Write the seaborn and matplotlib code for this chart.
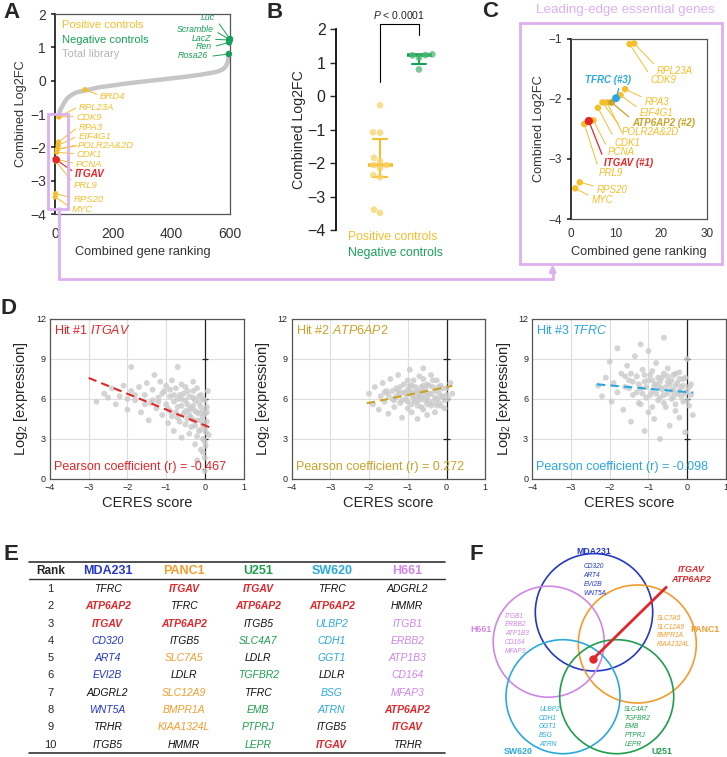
import matplotlib
matplotlib.use('Agg')
import matplotlib.pyplot as plt
import matplotlib.font_manager as fm
from matplotlib.patches import Circle, Rectangle
import numpy as np
import pandas as pd
import seaborn as sns

# ---------------- data ----------------
# panel A: total library (sorted combined log2FC)
lib_rank = [15, 20, 30, 40, 50, 60, 75, 100, 150, 200, 250, 300, 350, 400,
            450, 500, 540, 560, 575, 585, 592, 596]
lib_lfc = [-0.95, -0.85, -0.68, -0.55, -0.47, -0.41, -0.35, -0.30, -0.20, -0.14,
           -0.08, -0.03, 0.02, 0.07, 0.12, 0.18, 0.24, 0.28, 0.34, 0.42, 0.55, 0.75]

# positive controls (rank, combined log2FC)
pos_genes = ['MYC', 'RPS20', 'PRL9', 'PCNA', 'CDK1', 'POLR2A', 'POLR2D',
             'EIF4G1', 'RPA3', 'CDK9', 'RPL23A', 'BRD4']
pos_rank = [1, 2, 3, 5, 6, 7, 8, 11, 12, 13, 14, 103]
pos_lfc = [-3.49, -3.39, -2.42, -2.36, -2.15, -2.06, -2.06, -1.94, -1.84, -1.09, -1.08, -0.27]

# negative controls
neg_genes = ['Luc', 'Scramble', 'LacZ', 'Ren', 'Rosa26']
neg_rank = [600, 599, 598, 597, 596]
neg_lfc = [1.25, 1.23, 1.22, 1.15, 0.80]

# top hits
hit_genes = ['ITGAV', 'ATP6AP2', 'TFRC']
hit_rank = [4, 9, 10]
hit_lfc = [-2.37, -2.06, -1.99]

# label anchors (text, x, y)
a_pos_labels = [('BRD4', 154, -0.47), ('RPL23A', 82, -0.80), ('CDK9', 74, -1.10),
                ('RPA3', 82, -1.40), ('EIF4G1', 80, -1.68), ('POLR2A&2D', 77, -1.95),
                ('CDK1', 74, -2.22), ('PCNA', 72, -2.52), ('PRL9', 65, -3.13),
                ('RPS20', 63, -3.55), ('MYC', 57, -3.85)]
a_neg_labels = [('Luc', 549, 1.90), ('Scramble', 543, 1.55), ('LacZ', 535, 1.27),
                ('Ren', 537, 1.03), ('Rosa26', 526, 0.75)]
c_pos_labels = [('RPL23A', 19.0, -1.53), ('CDK9', 17.7, -1.69), ('RPA3', 16.3, -2.05),
                ('EIF4G1', 15.2, -2.23), ('POLR2A&2D', 11.3, -2.56), ('CDK1', 9.7, -2.73),
                ('PCNA', 8.2, -2.89), ('PRL9', 6.2, -3.23), ('RPS20', 5.7, -3.52),
                ('MYC', 4.6, -3.69)]
c_hit_labels = [('ITGAV (#1)', 7.3, -3.06), ('ATP6AP2 (#2)', 13.5, -2.40),
                ('TFRC (#3)', 3.2, -1.69)]

# panel D: CERES score vs log2 expression (approximate read-off of the clouds)
itgav_pts = [(-2.8, 5.8), (-2.6, 6.4), (-2.5, 6.1), (-2.4, 6.8), (-2.3, 5.6), (-2.2, 6.2),
             (-2.1, 7.0), (-2.0, 5.2), (-1.9, 6.6), (-1.9, 8.4), (-1.8, 5.9), (-1.7, 6.9),
             (-1.65, 5.0), (-1.55, 6.3), (-1.5, 7.2), (-1.45, 4.4), (-1.4, 5.7), (-1.35, 6.7),
             (-1.3, 7.8), (-1.25, 5.3), (-1.2, 6.1), (-1.15, 7.3), (-1.1, 4.8), (-1.05, 6.6),
             (-1.0, 5.6), (-1.0, 7.0), (-0.95, 4.2), (-0.9, 6.2), (-0.9, 5.1), (-0.85, 7.4),
             (-0.8, 3.6), (-0.8, 5.8), (-0.75, 6.8), (-0.7, 4.6), (-0.7, 5.4), (-0.7, 8.4),
             (-0.65, 6.3), (-0.6, 3.1), (-0.6, 7.1), (-0.6, 6.0), (-0.55, 4.9), (-0.5, 5.9),
             (-0.5, 4.1), (-0.45, 6.6), (-0.4, 5.2), (-0.4, 3.4), (-0.35, 4.6), (-0.3, 6.1),
             (-0.3, 5.5), (-0.3, 7.3), (-0.25, 2.6), (-0.25, 4.0), (-0.2, 5.0), (-0.2, 6.8),
             (-0.2, 1.4), (-0.15, 3.6), (-0.15, 5.7), (-0.1, 4.4), (-0.1, 6.3), (-0.1, 2.2),
             (-0.05, 5.1), (-0.05, 3.0), (-0.05, 4.7), (0.0, 1.6), (0.0, 3.8), (0.0, 5.9),
             (0.0, 0.6), (0.02, 2.5), (0.05, 4.3), (0.05, 5.4), (0.1, 3.3), (0.08, 6.6),
             (-0.95, 5.3), (-0.9, 6.7), (-0.85, 4.7), (-0.8, 6.3), (-0.75, 5.0), (-0.7, 6.0),
             (-0.65, 4.3), (-0.6, 5.5), (-0.55, 6.4), (-0.5, 5.1), (-0.5, 6.9), (-0.45, 4.5),
             (-0.45, 5.6), (-0.4, 6.2), (-0.4, 4.8), (-0.35, 5.3), (-0.35, 3.9), (-0.3, 4.4),
             (-0.3, 6.6), (-0.25, 5.1), (-0.25, 5.9), (-0.2, 4.4), (-0.2, 3.2), (-0.15, 4.9),
             (-0.15, 6.2), (-0.1, 5.4), (-0.1, 3.7), (-0.05, 6.0), (-0.05, 4.1), (0.0, 4.9),
             (0.0, 2.8), (0.03, 3.5), (0.05, 5.0), (-1.2, 5.8), (-1.1, 6.4), (-1.35, 5.9),
             (-1.55, 5.6), (-1.8, 6.3), (-2.0, 6.0), (-0.05, 2.0)]
atp6ap2_pts = [(-2.0, 6.4), (-1.9, 5.6), (-1.85, 6.9), (-1.75, 5.2), (-1.7, 6.2), (-1.65, 7.2),
               (-1.6, 5.8), (-1.55, 6.6), (-1.5, 4.9), (-1.45, 7.5), (-1.4, 6.0), (-1.35, 5.4),
               (-1.3, 6.8), (-1.3, 6.2), (-1.25, 7.8), (-1.2, 5.7), (-1.2, 6.4), (-1.15, 4.6),
               (-1.1, 7.1), (-1.1, 6.5), (-1.05, 6.0), (-1.0, 5.3), (-1.0, 6.7), (-0.95, 8.2),
               (-0.95, 7.0), (-0.9, 6.3), (-0.9, 5.0), (-0.85, 7.4), (-0.85, 6.0), (-0.8, 5.8),
               (-0.8, 6.9), (-0.75, 4.5), (-0.7, 6.2), (-0.7, 7.7), (-0.65, 5.4), (-0.65, 6.9),
               (-0.6, 6.6), (-0.6, 8.3), (-0.55, 5.9), (-0.55, 6.3), (-0.5, 7.1), (-0.5, 4.8),
               (-0.45, 6.4), (-0.4, 7.8), (-0.4, 5.5), (-0.35, 6.9), (-0.3, 6.1), (-0.3, 5.0),
               (-0.25, 7.4), (-0.2, 6.5), (-0.2, 5.7), (-0.15, 7.0), (-0.1, 6.2), (-0.05, 5.3),
               (0.0, 6.8), (0.05, 6.0), (0.1, 7.2), (0.15, 6.4),
               (-1.5, 6.3), (-1.4, 6.6), (-1.35, 5.9), (-1.2, 6.9), (-1.15, 5.9), (-1.05, 6.4),
               (-1.0, 5.8), (-0.95, 6.6), (-0.9, 5.6), (-0.85, 6.5), (-0.8, 6.2), (-0.75, 6.6),
               (-0.75, 5.5), (-0.7, 5.9), (-0.7, 6.5), (-0.65, 6.1), (-0.6, 5.2), (-0.6, 7.0),
               (-0.55, 6.7), (-0.5, 5.6), (-0.5, 6.1), (-0.45, 7.0), (-0.45, 5.8), (-0.4, 6.4),
               (-0.35, 5.7), (-0.3, 6.6), (-0.25, 6.0), (-0.25, 5.5), (-0.2, 6.9), (-0.15, 6.2),
               (-0.1, 6.8), (-0.05, 5.9), (0.0, 6.3), (-0.9, 7.0), (-1.0, 7.4), (-0.6, 7.5),
               (-1.25, 6.6), (-1.6, 6.5), (-0.35, 7.4), (-0.15, 5.5)]
tfrc_pts = [(-2.3, 7.0), (-2.2, 6.2), (-2.1, 7.6), (-2.0, 8.8), (-1.95, 5.8), (-1.9, 7.2),
            (-1.8, 9.8), (-1.8, 6.5), (-1.7, 7.9), (-1.65, 5.2), (-1.6, 6.9), (-1.55, 8.5),
            (-1.5, 7.4), (-1.45, 4.3), (-1.4, 6.3), (-1.35, 9.2), (-1.3, 7.7), (-1.25, 5.7),
            (-1.2, 6.8), (-1.2, 10.1), (-1.15, 8.2), (-1.1, 3.6), (-1.1, 7.3), (-1.05, 6.1),
            (-1.0, 9.6), (-1.0, 5.0), (-0.95, 7.8), (-0.9, 6.6), (-0.9, 7.4), (-0.85, 4.5),
            (-0.8, 7.1), (-0.8, 8.7), (-0.75, 5.9), (-0.7, 6.9), (-0.7, 3.0), (-0.65, 7.6),
            (-0.6, 6.3), (-0.6, 10.6), (-0.55, 5.4), (-0.5, 7.3), (-0.5, 8.3), (-0.45, 4.0),
            (-0.4, 6.7), (-0.4, 6.0), (-0.35, 7.8), (-0.35, 6.2), (-0.3, 5.1), (-0.3, 7.0),
            (-0.25, 6.4), (-0.2, 8.0), (-0.2, 4.6), (-0.15, 6.9), (-0.1, 5.8), (-0.1, 7.5),
            (-0.05, 3.5), (0.0, 6.6), (0.0, 9.0), (0.05, 5.5), (0.1, 7.1), (0.15, 4.8),
            (-1.5, 6.8), (-1.45, 7.9), (-1.4, 7.3), (-1.3, 6.5), (-1.25, 7.1), (-1.15, 6.4),
            (-1.1, 7.8), (-1.05, 6.9), (-1.0, 7.4), (-0.95, 6.3), (-0.9, 8.1), (-0.85, 7.0),
            (-0.8, 6.4), (-0.75, 7.6), (-0.7, 6.1), (-0.7, 7.3), (-0.65, 6.7), (-0.6, 7.9),
            (-0.55, 6.9), (-0.5, 6.4), (-0.5, 7.7), (-0.45, 7.1), (-0.4, 7.4), (-0.35, 6.6),
            (-0.3, 7.9), (-0.25, 7.2), (-0.2, 6.6), (-0.2, 7.5), (-0.15, 6.2), (-0.1, 7.0),
            (-0.05, 6.4), (-0.05, 7.6), (0.0, 5.9), (0.05, 6.9), (0.1, 6.3), (-1.2, 5.6),
            (-0.9, 5.4), (-0.6, 5.7), (-0.3, 5.6), (-1.6, 7.7)]
# fitted lines (end points)
itgav_fit = ([-3.0, 0.23], [7.58, 3.75])
atp6ap2_fit = ([-2.06, 0.15], [5.68, 6.98])
tfrc_fit = ([-2.33, 0.16], [7.10, 6.48])
pearson_r = ['-0.467', '0.272', '-0.098']

# panel E: top-10 ranked genes per cell line
cell_lines = ['MDA231', 'PANC1', 'U251', 'SW620', 'H661']
top10 = {
    'MDA231': ['TFRC', 'ATP6AP2', 'ITGAV', 'CD320', 'ART4', 'EVI2B', 'ADGRL2', 'WNT5A', 'TRHR', 'ITGB5'],
    'PANC1': ['ITGAV', 'TFRC', 'ATP6AP2', 'ITGB5', 'SLC7A5', 'LDLR', 'SLC12A9', 'BMPR1A', 'KIAA1324L', 'HMMR'],
    'U251': ['ITGAV', 'ATP6AP2', 'ITGB5', 'SLC4A7', 'LDLR', 'TGFBR2', 'TFRC', 'EMB', 'PTPRJ', 'LEPR'],
    'SW620': ['TFRC', 'ATP6AP2', 'ULBP2', 'CDH1', 'GGT1', 'LDLR', 'BSG', 'ATRN', 'ITGB5', 'ITGAV'],
    'H661': ['ADGRL2', 'HMMR', 'ITGB1', 'ERBB2', 'ATP1B3', 'CD164', 'MFAP3', 'ATP6AP2', 'ITGAV', 'TRHR'],
}
common_hits = ['ITGAV', 'ATP6AP2']

# ---------------- style ----------------
sns.set_theme(style='white')
names = {f.name for f in fm.fontManager.ttflist}
FONT = 'Liberation Sans'
NARROW = 'Liberation Sans Narrow' if 'Liberation Sans Narrow' in names else FONT
plt.rcParams['font.family'] = [FONT, 'DejaVu Sans']
plt.rcParams['mathtext.fontset'] = 'custom'
plt.rcParams['mathtext.rm'] = FONT
plt.rcParams['mathtext.it'] = FONT + ':italic'
plt.rcParams['mathtext.bf'] = FONT + ':bold'

YEL = '#F4BE2C'
YEL_LIGHT = '#F7D46A'
GREEN = '#17A158'
GREEN_LIGHT = '#4DB873'
GRAY = '#C6C6C6'
RED = '#E3262A'
GOLD = '#C9A227'
BLUE = '#2AA7E0'
LILAC = '#DDB0F0'
SPINE = '#555555'
line_colors = {'MDA231': '#2437C8', 'PANC1': '#F39C2C', 'U251': '#1E9E4E',
               'SW620': '#2AA9DA', 'H661': '#CF86E6'}

W, H = 727, 757
fig = plt.figure(figsize=(W / 100, H / 100), dpi=100)


def px_axes(x0, y0, x1, y1):
    return fig.add_axes([x0 / W, 1 - y1 / H, (x1 - x0) / W, (y1 - y0) / H])


def style_spines(ax, left='black'):
    for s in ['top', 'right', 'bottom']:
        ax.spines[s].set_color(SPINE)
        ax.spines[s].set_linewidth(0.9)
    ax.spines['left'].set_color(left)
    ax.spines['left'].set_linewidth(1.1)


pos_df = pd.DataFrame({'gene': pos_genes, 'rank': pos_rank, 'lfc': pos_lfc})
neg_df = pd.DataFrame({'gene': neg_genes, 'rank': neg_rank, 'lfc': neg_lfc})
hit_df = pd.DataFrame({'gene': hit_genes, 'rank': hit_rank, 'lfc': hit_lfc})
pt = {g: (r, v) for g, r, v in zip(pos_genes + neg_genes + hit_genes,
                                    pos_rank + neg_rank + hit_rank,
                                    pos_lfc + neg_lfc + hit_lfc)}


def label_targets(lbl):
    return ['POLR2A', 'POLR2D'] if lbl == 'POLR2A&2D' else [lbl.split(' ')[0]]


# ---------------- A ----------------
ax = px_axes(55, 14, 230, 214)
sns.lineplot(x=lib_rank, y=lib_lfc, color=GRAY, lw=3.2, ax=ax, solid_capstyle='round')
sns.scatterplot(data=hit_df[hit_df.gene != 'ITGAV'], x='rank', y='lfc', color=GRAY, s=10,
                edgecolor='none', ax=ax, clip_on=False)
sns.scatterplot(data=pos_df, x='rank', y='lfc', color=YEL, s=14, edgecolor='none',
                ax=ax, clip_on=False, zorder=3)
sns.scatterplot(data=hit_df[hit_df.gene == 'ITGAV'], x='rank', y='lfc', color=RED, s=30,
                edgecolor='none', ax=ax, clip_on=False, zorder=4)
sns.scatterplot(data=neg_df, x='rank', y='lfc', color=GREEN, s=22, edgecolor='none',
                ax=ax, clip_on=False, zorder=3)
for lbl, lx, ly in a_pos_labels:
    for g in label_targets(lbl):
        ax.annotate(lbl if g == label_targets(lbl)[0] else '', xy=pt[g], xytext=(lx, ly),
                    fontsize=6.8, style='italic', color=YEL, ha='left', va='center',
                    arrowprops=dict(arrowstyle='-', color=YEL, lw=0.7, shrinkA=0, shrinkB=2,
                                    relpos=(0, 0.6)))
ax.annotate('ITGAV', xy=pt['ITGAV'], xytext=(69, -2.80), fontsize=7.2, style='italic',
            weight='bold', color=RED, ha='left', va='center',
            arrowprops=dict(arrowstyle='-', color=RED, lw=0.8, shrinkA=0, shrinkB=2, relpos=(0, 0.6)))
for lbl, lx, ly in a_neg_labels:
    ax.annotate(lbl, xy=pt[lbl], xytext=(lx, ly), fontsize=6.3, style='italic', color=GREEN,
                ha='right', va='center',
                arrowprops=dict(arrowstyle='-', color=GREEN, lw=0.7, shrinkA=1, shrinkB=2,
                                relpos=(1, 0.4)))
ax.text(0.04, 0.945, 'Positive controls', color=YEL, fontsize=8, transform=ax.transAxes, va='center')
ax.text(0.04, 0.87, 'Negative controls', color=GREEN, fontsize=8, transform=ax.transAxes, va='center')
ax.text(0.04, 0.80, 'Total library', color='#B5B5B5', fontsize=8, transform=ax.transAxes, va='center')
ax.add_patch(Rectangle((-25, -3.84), 70.6, 2.85, fill=False, ec=LILAC, lw=2, clip_on=False, zorder=5))
ax.set_xlim(0, 600)
ax.set_ylim(-4, 2)
ax.set_xticks([0, 200, 400, 600])
ax.set_yticks(range(-4, 3))
ax.tick_params(labelsize=10, length=3, left=True, bottom=False, colors='#333333')
ax.tick_params(axis='x', pad=6)
ax.set_xlabel('Combined gene ranking', fontsize=9.2, color='#333333')
ax.set_ylabel('Combined Log2FC', fontsize=9.2, color='#333333', labelpad=2)
style_spines(ax)

# ---------------- B ----------------
ax = px_axes(336, 29.3, 470, 230)
order = ['Positive controls', 'Negative controls']
b_df = pd.DataFrame({'group': [order[0]] * len(pos_lfc) + [order[1]] * len(neg_lfc),
                     'lfc': pos_lfc + neg_lfc})


def iqr(v):
    return (np.percentile(v, 25, method='weibull'), np.percentile(v, 75, method='weibull'))


sns.swarmplot(data=b_df, x='group', y='lfc', hue='group', order=order, hue_order=order,
              palette=[YEL_LIGHT, GREEN_LIGHT], size=4.8, alpha=0.75, legend=False, ax=ax)
sns.pointplot(data=b_df, x='group', y='lfc', hue='group', order=order, hue_order=order,
              palette=[YEL, GREEN], estimator='median', errorbar=iqr, capsize=0.36,
              markers='_', markersize=18, markeredgewidth=2.6, linestyle='none',
              err_kws={'linewidth': 1.5}, legend=False, ax=ax)
ax.plot([0, 0, 1, 1], [0.43, 2.16, 2.16, 1.83], color='black', lw=0.8, clip_on=False)
ax.text(0.5, 2.43, '$\\mathit{P}$ < 0.0001', ha='center', va='center', fontsize=7.5)
ax.text(-0.82, -4.2, 'Positive controls', color=YEL, fontsize=8.8, va='center', clip_on=False)
ax.text(-0.82, -4.68, 'Negative controls', color=GREEN, fontsize=8.8, va='center', clip_on=False)
ax.set_xlim(-1.13, 2.31)
ax.set_ylim(-4, 2)
ax.set_yticks(range(-4, 3))
ax.set_xticks([])
ax.set_xlabel('')
ax.set_ylabel('Combined Log2FC', fontsize=10.2, labelpad=1)
for lab in ax.get_yticklabels():
    lab.set_fontfamily(NARROW)
ax.tick_params(axis='y', labelsize=11.5, length=4, left=True, width=1)
for s in ['top', 'right', 'bottom']:
    ax.spines[s].set_visible(False)
ax.spines['left'].set_color('black')

# ---------------- C ----------------
ax = px_axes(570.7, 38.7, 706.7, 219)
sns.scatterplot(data=pos_df[pos_df.gene != 'BRD4'], x='rank', y='lfc', color=YEL, s=22,
                edgecolor='none', ax=ax, zorder=3)
sns.scatterplot(data=hit_df, x='rank', y='lfc', hue='gene', palette=[RED, GOLD, BLUE],
                s=[36, 24, 32], edgecolor='none', ax=ax, legend=False, zorder=4)
for lbl, lx, ly in c_pos_labels:
    tg = label_targets(lbl)
    for g in tg:
        ax.annotate(lbl if g == tg[0] else '', xy=pt[g], xytext=(lx, ly), fontsize=7,
                    style='italic', color=YEL, ha='left', va='center',
                    arrowprops=dict(arrowstyle='-', color=YEL, lw=0.7, shrinkA=0, shrinkB=2.5,
                                    relpos=(0, 0.85)))
for (lbl, lx, ly), col in zip(c_hit_labels, [RED, GOLD, BLUE]):
    rp = (0.75, 0.0) if lbl.startswith('TFRC') else (0, 0.85)
    ax.annotate(lbl, xy=pt[lbl.split(' ')[0]], xytext=(lx, ly), fontsize=7, style='italic',
                weight='bold', color=col, ha='left', va='center',
                arrowprops=dict(arrowstyle='-', color=col, lw=0.9, shrinkA=0, shrinkB=2.5,
                                relpos=rp))
ax.set_xlim(0, 30)
ax.set_ylim(-4, -1)
ax.set_xticks([0, 10, 20, 30])
ax.set_yticks([-4, -3, -2, -1])
ax.tick_params(labelsize=8.5, length=3, left=True, bottom=False, colors='#333333')
ax.set_xlabel('Combined gene ranking', fontsize=9.2, color='#333333')
ax.set_ylabel('Combined Log2FC', fontsize=9.2, color='#333333', labelpad=2)
style_spines(ax)

# ---------------- D ----------------
d_panels = [
    (50, itgav_pts, itgav_fit, 'ITGAV', '1', RED, pearson_r[0]),
    (291.7, atp6ap2_pts, atp6ap2_fit, 'ATP6AP2', '2', GOLD, pearson_r[1]),
    (532.3, tfrc_pts, tfrc_fit, 'TFRC', '3', BLUE, pearson_r[2]),
]
for x0, pts, fit, gene, num, col, r in d_panels:
    ax = px_axes(x0, 319, x0 + 193.5, 479)
    d_df = pd.DataFrame(pts, columns=['ceres', 'expr'])
    ax.grid(True, color='#DDDDDD', lw=0.8)
    ax.set_axisbelow(True)
    sns.scatterplot(data=d_df, x='ceres', y='expr', color='#CACACA', s=18, alpha=0.8,
                    edgecolor='none', ax=ax, zorder=2)
    sns.lineplot(x=fit[0], y=fit[1], color=col, lw=1.5, dashes=(4, 2.5), ax=ax, zorder=3)
    ax.axvline(0, color='#222222', lw=0.9, zorder=1)
    ax.hlines([3, 6, 9], -0.08, 0.08, color='#222222', lw=0.9, zorder=1)
    ax.text(0.02, 0.925, 'Hit #%s $\\mathit{%s}$' % (num, gene), color=col, fontsize=9,
            transform=ax.transAxes, va='center')
    ax.text(0.02, 0.075, 'Pearson coefficient (r) = %s' % r, color=col, fontsize=9,
            transform=ax.transAxes, va='center')
    ax.set_xlim(-4, 1)
    ax.set_ylim(0, 12)
    ax.set_xticks(range(-4, 2))
    ax.set_yticks(range(0, 13, 3))
    ax.tick_params(labelsize=6.5, length=0, pad=3)
    for lab in ax.get_xticklabels() + ax.get_yticklabels():
        lab.set_fontfamily(NARROW)
    ax.set_xlabel('CERES score', fontsize=10.5, labelpad=3)
    ax.set_ylabel('Log$_2$ [expression]', fontsize=10.5, labelpad=4)
    for s in ax.spines.values():
        s.set_color(SPINE)
        s.set_linewidth(0.9)

# ---------------- overlay: frames, letters, table, Venn ----------------
ov = fig.add_axes([0, 0, 1, 1], zorder=10)
ov.set_xlim(0, W)
ov.set_ylim(H, 0)
ov.axis('off')

for letter, lx, ly in [('A', 11.7, 13), ('B', 274.7, 13), ('C', 490, 11.7),
                       ('D', 9, 308), ('E', 11, 555), ('F', 476, 555)]:
    ov.text(lx, ly, letter, fontsize=16, weight='bold', ha='center', va='center')

ov.add_patch(Rectangle((520, 22.7), 202, 241.3, fill=False, ec=LILAC, lw=2))
ov.text(625, 10, 'Leading-edge essential genes', color=LILAC, fontsize=9.6,
        ha='center', va='center')
ov.plot([58.7, 58.7, 552.7, 552.7], [208, 279, 279, 270], color=LILAC, lw=2,
        solid_joinstyle='miter')
ov.annotate('', xy=(552.7, 264.5), xytext=(552.7, 274),
            arrowprops=dict(arrowstyle='-|>', color=LILAC, lw=2, mutation_scale=9,
                            shrinkA=0, shrinkB=0))

# table
col_x = [107.7, 184.3, 258.3, 331.7, 407.3]
row_y0, row_dy = 589, 17.3
ov.plot([29, 445], [561.7, 561.7], color='#333333', lw=1.2)
ov.plot([29, 445], [579, 579], color='#333333', lw=1.0)
ov.plot([29, 445], [753.3, 753.3], color='#333333', lw=1.2)
ov.text(50.7, 571, 'Rank', fontsize=8.5, weight='bold', ha='center', va='center')
gene_count = pd.Series([g for c in cell_lines for g in top10[c]]).value_counts()
for cx, cl in zip(col_x, cell_lines):
    ov.text(cx, 571, cl, fontsize=9, weight='bold', color=line_colors[cl],
            ha='center', va='center')
    for i, g in enumerate(top10[cl]):
        if g in common_hits:
            c, wt = RED, 'bold'
        elif gene_count[g] > 1:
            c, wt = '#111111', 'normal'
        else:
            c, wt = line_colors[cl], 'normal'
        ov.text(cx, row_y0 + i * row_dy, g, fontsize=7.5, style='italic', weight=wt,
                color=c, ha='center', va='center')
for i in range(10):
    ov.text(50.7, row_y0 + i * row_dy, str(i + 1), fontsize=8, ha='center', va='center')

# Venn diagram of the cell-line specific genes
venn = {
    'MDA231': ((594, 612.3), 58.7, (593.3, 551.7), (583.5, 566.7)),
    'PANC1': ((637.3, 644), 59, (705, 630), (656.7, 618.3)),
    'H661': ((548.7, 641.7), 55.5, (481, 630), (505, 616)),
    'SW620': ((563, 696.7), 57, (518.3, 751.7), (539, 709.3)),
    'U251': ((616.7, 696.7), 57, (661.7, 751.7), (624.3, 709.3)),
}
for cl, (cen, rad, lab_xy, list_xy) in venn.items():
    col = line_colors[cl]
    ov.add_patch(Circle(cen, rad, fill=False, ec=col, lw=1.2))
    ov.text(lab_xy[0], lab_xy[1], cl, fontsize=6.3, weight='bold', color=col,
            ha='center', va='center')
    uniq = [g for g in top10[cl] if gene_count[g] == 1]
    for j, g in enumerate(uniq):
        ov.text(list_xy[0], list_xy[1] + j * 8.8, g, fontsize=4.8, style='italic',
                color=col, ha='left', va='center')
ov.plot([592.7, 667], [659.3, 586.5], color=RED, lw=2, solid_capstyle='butt')
ov.plot([592.7], [659.3], 'o', color=RED, ms=5)
ov.text(691, 569, common_hits[0], fontsize=6.5, weight='bold', style='italic', color=RED,
        ha='center', va='center')
ov.text(691, 579.3, common_hits[1], fontsize=6.5, weight='bold', style='italic', color=RED,
        ha='center', va='center')

fig.savefig('out.png', dpi=100)
